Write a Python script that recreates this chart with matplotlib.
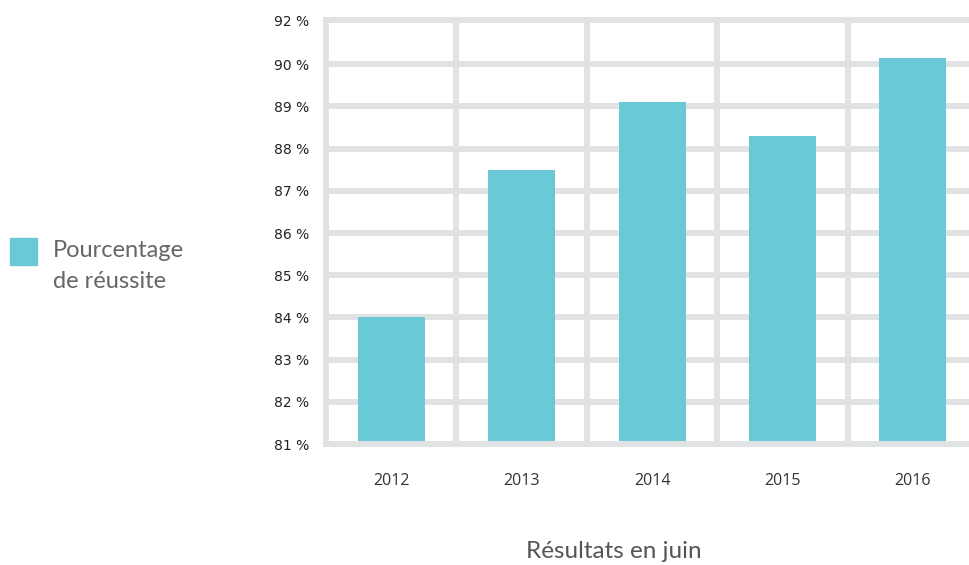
import matplotlib.pyplot as plt

# Data
years = ["2012", "2013", "2014", "2015", "2016"]
taux = [84.0, 87.5, 89.1, 88.3, 90.15]

# y tick positions and labels (the top line is labelled 92 % in the original)
ytick_pos = [81, 82, 83, 84, 85, 86, 87, 88, 89, 90, 91.05]
ytick_lab = ["81 %", "82 %", "83 %", "84 %", "85 %", "86 %", "87 %",
             "88 %", "89 %", "90 %", "92 %"]

bar_col = "#69c9d6"
grid_col = "#e1e2e4"

W, H = 969, 565
fig = plt.figure(figsize=(W / 100, H / 100), dpi=100)

# axes spans past the right edge of the picture, like the reference
left, right, top, bottom = 326, 978, 20, 444
ax = fig.add_axes([left / W, (H - bottom) / H, (right - left) / W, (bottom - top) / H])

x = list(range(len(years)))
base = 81
ax.bar(x, [v - base for v in taux], width=67 / 130.4, bottom=base,
       color=bar_col, zorder=2)

ax.set_xlim(-0.5, len(years) - 0.5)
ax.set_ylim(81, 91.05)

ax.set_yticks(ytick_pos)
ax.set_yticklabels(ytick_lab, family=["Liberation Sans Narrow", "DejaVu Sans"],
                   fontsize=10, color="#222222")
ax.set_xticks([i + 0.5 for i in x[:-1]], minor=False)
ax.set_xticklabels([])
ax.set_xticks(x, minor=True)
ax.set_xticklabels(years, minor=True, fontsize=11.5, color="#333333",
                   family=["Open Sans", "DejaVu Sans"])

ax.tick_params(axis="both", which="both", length=0)
ax.tick_params(axis="y", pad=12)
ax.tick_params(axis="x", which="minor", pad=21)

ax.grid(True, which="major", color=grid_col, linewidth=4.3, zorder=1)
ax.set_axisbelow(True)

for s in ["left", "top", "bottom"]:
    ax.spines[s].set_color(grid_col)
    ax.spines[s].set_linewidth(4.3)
    ax.spines[s].set_zorder(3)
ax.spines["right"].set_visible(False)

# legend on the left
fig.patches.append(plt.Rectangle((10 / W, (H - 265) / H), 27 / W, 27 / H,
                                 transform=fig.transFigure, color=bar_col))
fig.text(53 / W, (H - 266) / H, "Pourcentage\nde réussite", fontsize=17,
         color="#666666", va="center", ha="left", linespacing=1.55,
         family=["Lato", "DejaVu Sans"])

# x axis title
fig.text(614 / W, (H - 551) / H, "Résultats en juin", fontsize=17.5,
         color="#555555", ha="center", va="center",
         family=["Lato", "DejaVu Sans"])

fig.savefig("out.png", dpi=100)
